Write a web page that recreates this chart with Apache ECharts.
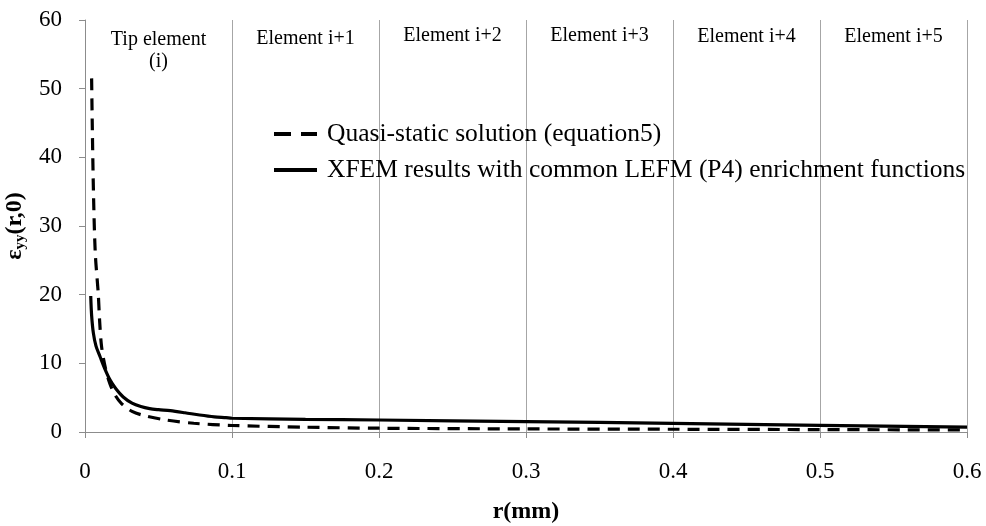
<!DOCTYPE html>
<html>
<head>
<meta charset="utf-8">
<script src="https://cdn.jsdelivr.net/npm/echarts@6/dist/echarts.min.js"></script>
<style>html,body{margin:0;padding:0;background:#fff}#c{width:986px;height:526px}</style>
</head>
<body>
<div id="c"></div>
<script>
// ---- data ----
var quasiR = [0.0045, 0.005, 0.0058, 0.007, 0.009, 0.0100, 0.0113, 0.0140, 0.0170, 0.0204, 0.0250, 0.0320, 0.0400, 0.0550, 0.0740, 0.1000, 0.1500, 0.2000, 0.3000, 0.4000, 0.5000, 0.6000];
var quasiY = [51.5, 44, 34.5, 26, 20.2, 16, 12.4, 9.2, 7.0, 5.4, 4.1, 3.0, 2.4, 1.75, 1.27, 0.95, 0.7, 0.55, 0.45, 0.4, 0.35, 0.3];
var xfemR = [0.0039, 0.0045, 0.0057, 0.0075, 0.0102, 0.0135, 0.017, 0.021, 0.026, 0.032, 0.038, 0.044, 0.050, 0.058, 0.068, 0.078, 0.088, 0.096, 0.1, 0.15, 0.2, 0.3, 0.4, 0.5, 0.6];
var xfemY = [19.8, 17, 14.4, 12.5, 11, 9.2, 7.6, 6.3, 5.1, 4.2, 3.7, 3.4, 3.25, 3.1, 2.8, 2.47, 2.2, 2.08, 2.0, 1.85, 1.75, 1.5, 1.27, 0.97, 0.7];
var seriesNames = ['Quasi-static solution (equation5)', 'XFEM results with common LEFM (P4) enrichment functions'];
var elementBounds = [0, 0.1, 0.2, 0.3, 0.4, 0.5, 0.6];
var elementLabels = ['Tip element\n(i)', 'Element i+1', 'Element i+2', 'Element i+3', 'Element i+4', 'Element i+5'];
var xTickLabels = ['0', '0.1', '0.2', '0.3', '0.4', '0.5', '0.6'];
var yTickLabels = ['0', '10', '20', '30', '40', '50', '60'];

// ---- build ----
var FF = 'Liberation Serif';
function pairs(xs, ys) { return xs.map(function (x, i) { return [x, ys[i]]; }); }
var elementDistances = [9, 8, 5, 5, 6, 6];
var areaData = elementLabels.map(function (lab, i) {
  return [
    { xAxis: elementBounds[i], name: lab, label: { distance: elementDistances[i] } },
    { xAxis: elementBounds[i + 1] }
  ];
});

var chart = echarts.init(document.getElementById('c'), null, { renderer: 'canvas' });
chart.setOption({
  animation: false,
  backgroundColor: '#fff',
  textStyle: { fontFamily: FF },
  grid: { left: 85, right: 19, top: 20, bottom: 94, containLabel: false, outerBoundsMode: 'none' },
  legend: {
    orient: 'vertical',
    left: 272,
    top: 121,
    padding: 0,
    itemWidth: 43,
    itemHeight: 14,
    itemGap: 10,
    data: [
      { name: seriesNames[0], lineStyle: { type: [17, 10], width: 4 } },
      { name: seriesNames[1], lineStyle: { width: 4 } }
    ],
    itemStyle: { opacity: 0 },
    textStyle: { fontFamily: FF, fontSize: 25.5, color: '#000', padding: [0, 0, 0, 5] }
  },
  xAxis: {
    type: 'value',
    min: 0, max: 0.6, interval: 0.1,
    name: 'r(mm)',
    nameLocation: 'middle',
    nameGap: 68,
    nameTextStyle: { fontFamily: FF, fontSize: 24, fontWeight: 'bold', color: '#000' },
    axisLine: { show: true, lineStyle: { color: '#8c8c8c', width: 1 } },
    axisTick: { show: true, inside: false, length: 6, lineStyle: { color: '#8c8c8c' } },
    axisLabel: {
      margin: 28, fontFamily: FF, fontSize: 23, color: '#000',
      formatter: function (v) { return xTickLabels[Math.round(v * 10)]; }
    },
    splitLine: { show: true, lineStyle: { color: '#a6a6a6', width: 1 } }
  },
  yAxis: {
    type: 'value',
    min: 0, max: 60, interval: 10,
    name: '{e|ε}{s|yy}{e|(r,0)}',
    nameLocation: 'middle',
    nameGap: 46,
    nameTextStyle: {
      fontFamily: FF, fontSize: 24, fontWeight: 'bold', color: '#000',
      rich: {
        e: { fontFamily: FF, fontSize: 24, fontWeight: 'bold', color: '#000', lineHeight: 26 },
        s: { fontFamily: FF, fontSize: 15, fontWeight: 'bold', color: '#000', verticalAlign: 'bottom', lineHeight: 26, padding: [10, 0, 0, 0] }
      }
    },
    axisLine: { show: true, lineStyle: { color: '#8c8c8c', width: 1 } },
    axisTick: { show: true, inside: false, length: 6, lineStyle: { color: '#8c8c8c' } },
    axisLabel: {
      margin: 23, fontFamily: FF, fontSize: 23, color: '#000',
      formatter: function (v) { return yTickLabels[Math.round(v / 10)]; }
    },
    splitLine: { show: false }
  },
  series: [
    {
      name: seriesNames[0],
      type: 'line',
      data: pairs(quasiR, quasiY),
      smooth: 0.3,
      symbol: 'none',
      showSymbol: false,
      lineStyle: { color: '#000', width: 3.2, type: [12, 8] },
      itemStyle: { color: '#000' },
      z: 3
    },
    {
      name: seriesNames[1],
      type: 'line',
      data: pairs(xfemR, xfemY),
      smooth: 0.3,
      symbol: 'none',
      showSymbol: false,
      lineStyle: { color: '#000', width: 3.2 },
      itemStyle: { color: '#000' },
      z: 4,
      markArea: {
        silent: true,
        itemStyle: { color: 'rgba(0,0,0,0)' },
        label: {
          show: true, position: 'insideTop',
          fontFamily: FF, fontSize: 20, color: '#000', lineHeight: 22
        },
        data: areaData
      }
    }
  ]
});
</script>
</body>
</html>
